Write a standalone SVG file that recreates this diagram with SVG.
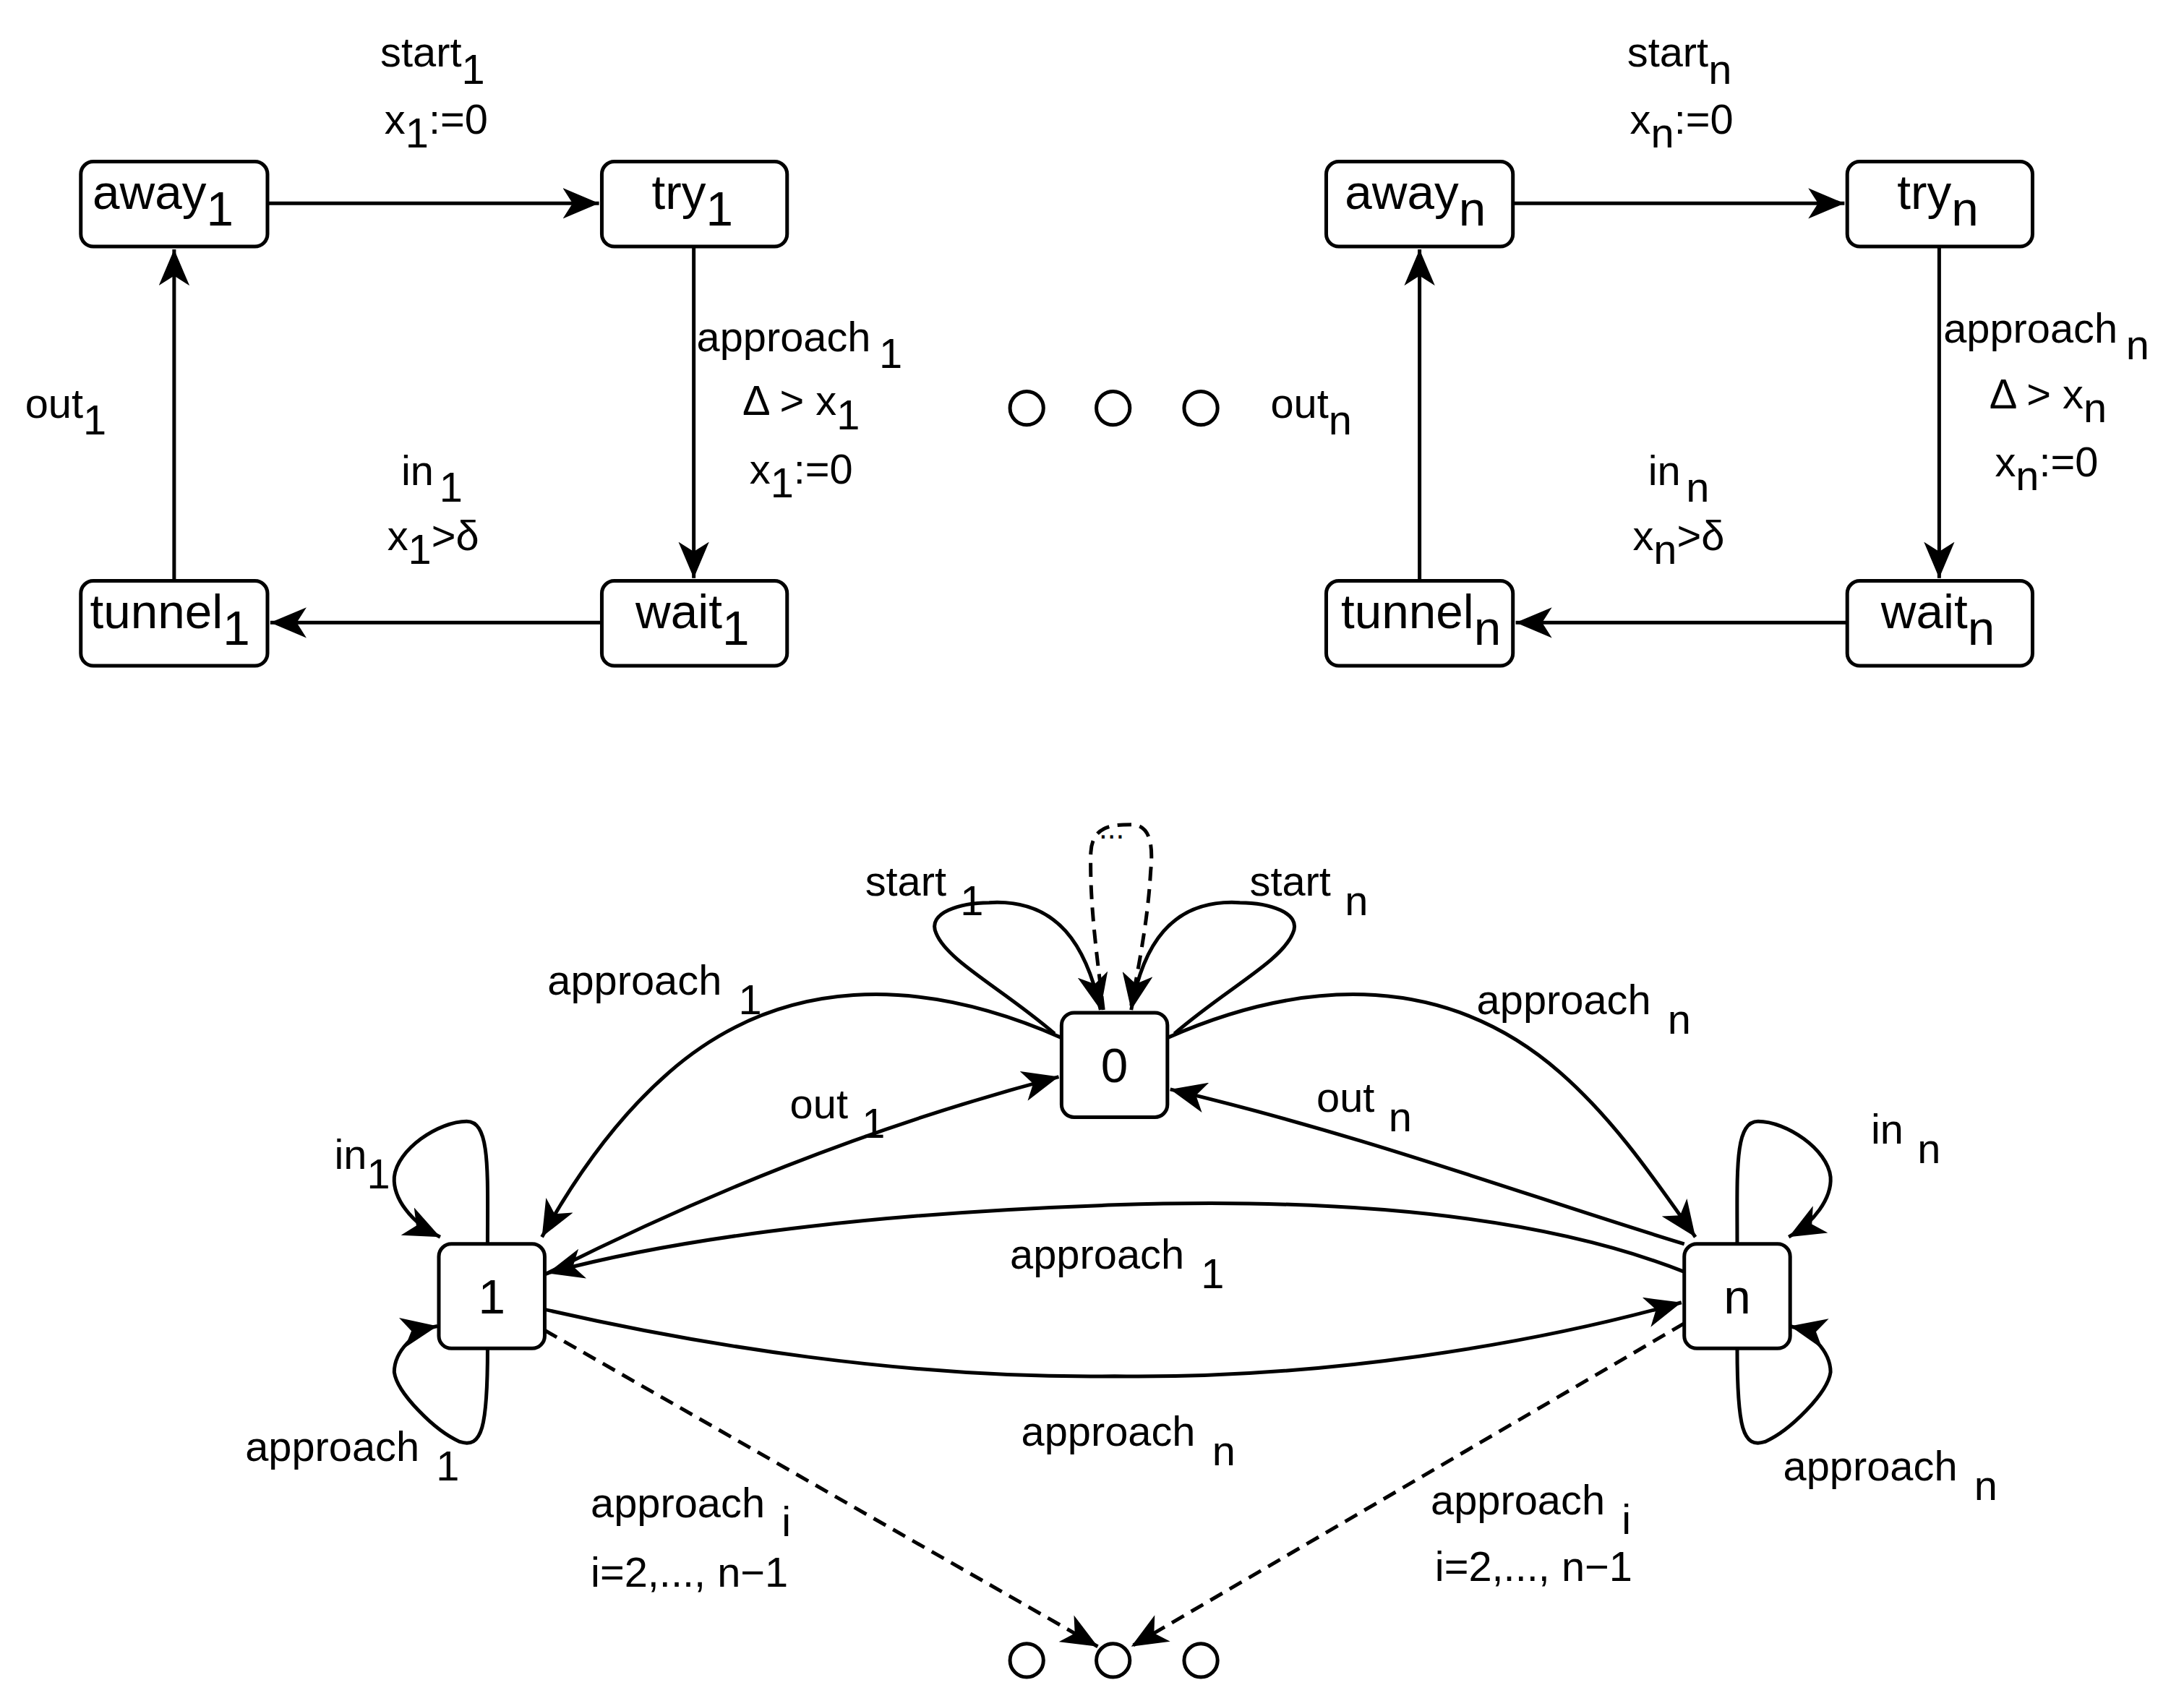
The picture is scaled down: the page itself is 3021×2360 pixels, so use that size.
<svg xmlns="http://www.w3.org/2000/svg" width="3021" height="2360" viewBox="0 0 3021 2360">
<style>
.n rect{fill:#fff;stroke:#000;stroke-width:2.6}
.n text{font-family:"Liberation Sans",Arial,sans-serif;font-size:35px;text-anchor:middle}
.l{font-family:"Liberation Sans",Arial,sans-serif;font-size:30px}
.c path,.c line{fill:none;stroke:#000;stroke-width:2.6}
.d{stroke-dasharray:10 6}
.o{fill:#fff;stroke:#000;stroke-width:2.6}
</style>
<defs>
<marker id="a" markerUnits="userSpaceOnUse" markerWidth="28" markerHeight="22" viewBox="0 0 28 22" refX="26" refY="11" orient="auto">
<path d="M0,0 L26,11 L0,22 L7,11 Z" fill="#000"/>
</marker>
</defs>
<rect width="3021" height="2360" fill="#fff"/>
<g transform="scale(1.927)">
<g class="c" id="connectors">
<line x1="192" y1="146" x2="430" y2="146" marker-end="url(#a)"/>
<line x1="498" y1="177" x2="498" y2="415" marker-end="url(#a)"/>
<line x1="432" y1="447" x2="194" y2="447" marker-end="url(#a)"/>
<line x1="125" y1="417" x2="125" y2="179" marker-end="url(#a)"/>
<line x1="1086" y1="146" x2="1324" y2="146" marker-end="url(#a)"/>
<line x1="1392" y1="177" x2="1392" y2="415" marker-end="url(#a)"/>
<line x1="1326" y1="447" x2="1088" y2="447" marker-end="url(#a)"/>
<line x1="1019" y1="417" x2="1019" y2="179" marker-end="url(#a)"/>
<path d="M762,745 C660,700 560,700 480,770 C440,805 410,850 389,888" marker-end="url(#a)"/>
<path d="M391,915 C500,860 620,810 760,773" marker-end="url(#a)"/>
<path d="M838,745 C940,700 1040,700 1120,770 C1160,805 1190,850 1217,888" marker-end="url(#a)"/>
<path d="M1209,893 C1100,860 980,815 840,782" marker-end="url(#a)"/>
<path d="M1209,913 C1100,870 950,860 800,865 C650,870 500,885 393,914" marker-end="url(#a)"/>
<path d="M391,940 C500,965 650,990 800,988 C950,990 1100,965 1207,935" marker-end="url(#a)"/>
<path class="d" d="M391,955 L788,1182" marker-end="url(#a)"/>
<path class="d" d="M1209,950 L812,1182" marker-end="url(#a)"/>
<path d="M757,742 C720,710 680,690 672,670 C665,655 690,648 710,648 C760,645 780,680 790,725" marker-end="url(#a)"/>
<path d="M843,742 C880,710 920,690 928,670 C935,655 910,648 890,648 C840,645 820,680 812,725" marker-end="url(#a)"/>
<path class="d" d="M792,725 C788,690 782,650 783,612 C784,592 800,592 812,592 C825,592 828,605 826,625 C824,660 818,690 812,722"/>
<path d="M350,893 C350,840 352,805 335,805 C315,805 285,825 283,845 C282,860 295,878 316,888" marker-end="url(#a)"/>
<path d="M350,968 C350,1025 346,1040 330,1035 C312,1027 285,1000 283,985 C283,970 298,955 314,952" marker-end="url(#a)"/>
<path d="M1247,893 C1247,840 1245,805 1262,805 C1282,805 1312,825 1314,845 C1315,860 1302,878 1284,888" marker-end="url(#a)"/>
<path d="M1247,968 C1247,1025 1251,1040 1267,1035 C1285,1027 1312,1000 1314,985 C1314,970 1299,955 1285,952" marker-end="url(#a)"/>
</g>
<g class="n" id="away1"><rect x="58" y="116" width="134" height="61" rx="9"/><text x="117" y="150">away<tspan dy="12">1</tspan></text></g>
<g class="n" id="try1"><rect x="432" y="116" width="133" height="61" rx="9"/><text x="497" y="150">try<tspan dy="12">1</tspan></text></g>
<g class="n" id="tunnel1"><rect x="58" y="417" width="134" height="61" rx="9"/><text x="122" y="451">tunnel<tspan dy="12">1</tspan></text></g>
<g class="n" id="wait1"><rect x="432" y="417" width="133" height="61" rx="9"/><text x="497" y="451">wait<tspan dy="12">1</tspan></text></g>
<g class="n" id="awayn"><rect x="952" y="116" width="134" height="61" rx="9"/><text x="1016" y="150">away<tspan dy="12">n</tspan></text></g>
<g class="n" id="tryn"><rect x="1326" y="116" width="133" height="61" rx="9"/><text x="1391" y="150">try<tspan dy="12">n</tspan></text></g>
<g class="n" id="tunneln"><rect x="952" y="417" width="134" height="61" rx="9"/><text x="1020" y="451">tunnel<tspan dy="12">n</tspan></text></g>
<g class="n" id="waitn"><rect x="1326" y="417" width="133" height="61" rx="9"/><text x="1391" y="451">wait<tspan dy="12">n</tspan></text></g>
<g class="n" id="s0"><rect x="762" y="727" width="76" height="75" rx="9"/><text x="800" y="777">0</text></g>
<g class="n" id="s1"><rect x="315" y="893" width="76" height="75" rx="9"/><text x="353" y="943">1</text></g>
<g class="n" id="sn"><rect x="1209" y="893" width="76" height="75" rx="9"/><text x="1247" y="943">n</text></g>
<g id="dots">
<circle class="o" cx="737" cy="293" r="12"/><circle class="o" cx="799" cy="293" r="12"/><circle class="o" cx="862" cy="293" r="12"/>
<circle class="o" cx="737" cy="1192" r="12"/><circle class="o" cx="799" cy="1192" r="12"/><circle class="o" cx="862" cy="1192" r="12"/>
</g>
<g id="labels" class="l">
<text x="273" y="48">start<tspan dy="12">1</tspan></text>
<text x="276" y="96">x<tspan dy="10">1</tspan><tspan dy="-10">:=0</tspan></text>
<text x="500" y="252">approach<tspan dx="6" dy="12">1</tspan></text>
<text x="533" y="298">Δ &gt; x<tspan dy="10">1</tspan></text>
<text x="538" y="347">x<tspan dy="10">1</tspan><tspan dy="-10">:=0</tspan></text>
<text x="18" y="300">out<tspan dy="12">1</tspan></text>
<text x="288" y="348">in<tspan dx="4" dy="12">1</tspan></text>
<text x="278" y="395">x<tspan dy="10">1</tspan><tspan dy="-10">&gt;δ</tspan></text>
<text x="1168" y="48">start<tspan dy="12">n</tspan></text>
<text x="1170" y="96">x<tspan dy="10">n</tspan><tspan dy="-10">:=0</tspan></text>
<text x="1395" y="246">approach<tspan dx="6" dy="12">n</tspan></text>
<text x="1428" y="293">Δ &gt; x<tspan dy="10">n</tspan></text>
<text x="1432" y="342">x<tspan dy="10">n</tspan><tspan dy="-10">:=0</tspan></text>
<text x="912" y="300">out<tspan dy="12">n</tspan></text>
<text x="1183" y="348">in<tspan dx="4" dy="12">n</tspan></text>
<text x="1172" y="395">x<tspan dy="10">n</tspan><tspan dy="-10">&gt;δ</tspan></text>
<text x="798" y="602" font-size="22" text-anchor="middle">...</text>
<text x="621" y="643">start<tspan dx="10" dy="14">1</tspan></text>
<text x="897" y="643">start<tspan dx="10" dy="14">n</tspan></text>
<text x="393" y="714">approach<tspan dx="12" dy="14">1</tspan></text>
<text x="1060" y="728">approach<tspan dx="12" dy="14">n</tspan></text>
<text x="567" y="803">out<tspan dx="10" dy="14">1</tspan></text>
<text x="945" y="798">out<tspan dx="10" dy="14">n</tspan></text>
<text x="240" y="839">in<tspan dy="14">1</tspan></text>
<text x="1343" y="821">in<tspan dx="10" dy="14">n</tspan></text>
<text x="725" y="911">approach<tspan dx="12" dy="14">1</tspan></text>
<text x="733" y="1038">approach<tspan dx="12" dy="14">n</tspan></text>
<text x="176" y="1049">approach<tspan dx="12" dy="14">1</tspan></text>
<text x="1280" y="1063">approach<tspan dx="12" dy="14">n</tspan></text>
<text x="424" y="1089">approach<tspan dx="12" dy="14">i</tspan></text>
<text x="424" y="1139">i=2,..., n−1</text>
<text x="1027" y="1087">approach<tspan dx="12" dy="14">i</tspan></text>
<text x="1030" y="1135">i=2,..., n−1</text>
</g>
</g>
</svg>
